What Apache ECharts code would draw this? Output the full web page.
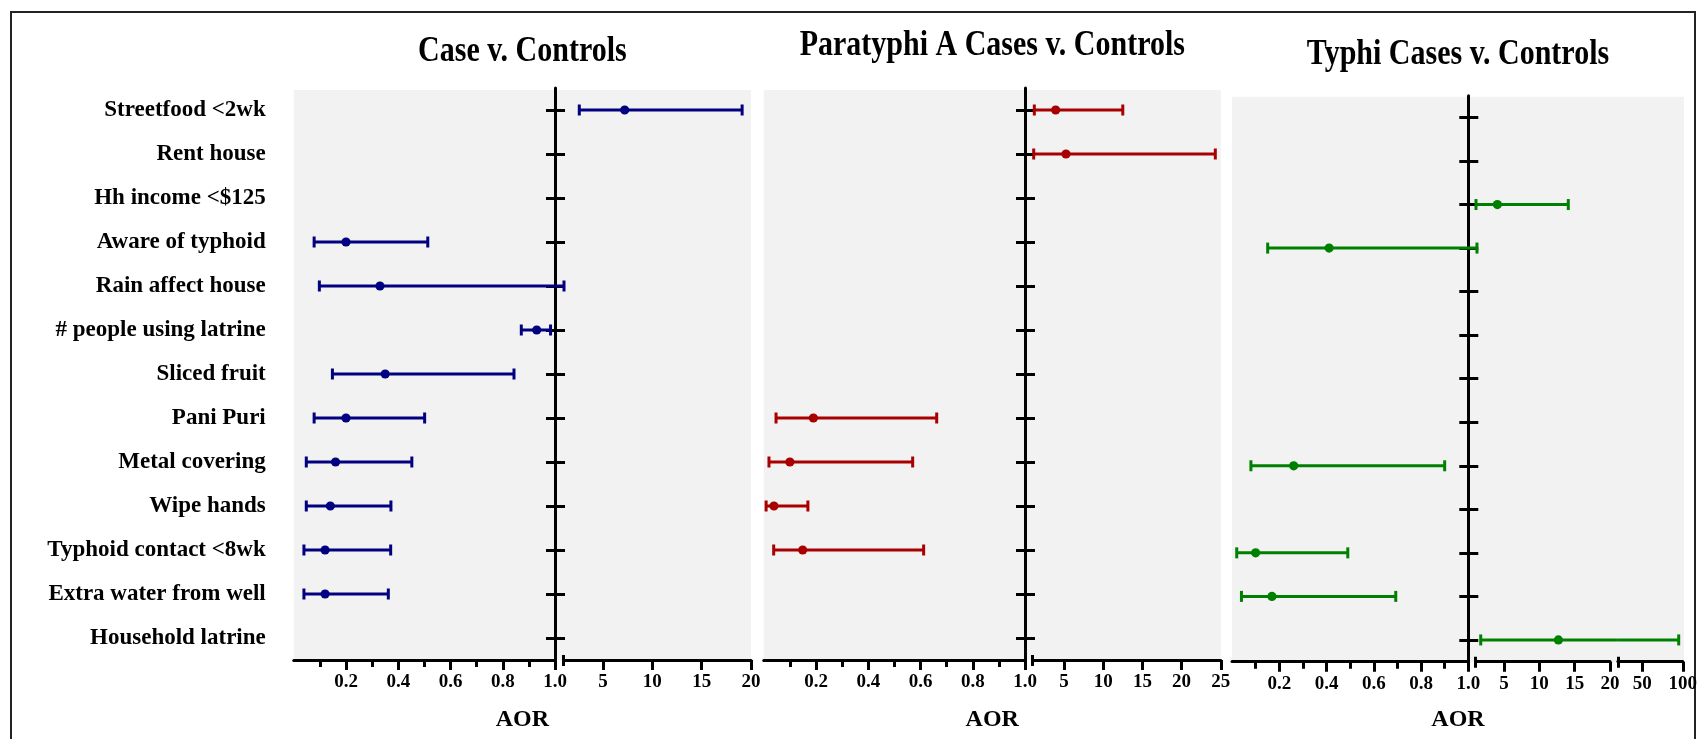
<!DOCTYPE html>
<html><head><meta charset="utf-8">
<script src="https://cdn.jsdelivr.net/npm/echarts@6/dist/echarts.min.js"></script>
<style>html,body{margin:0;padding:0;background:#fff}#c{width:1700px;height:739px}</style>
</head><body><div id="c"></div>
<script>
// ---------------- DATA ----------------
const categories = ['Streetfood <2wk', 'Rent house', 'Hh income <$125', 'Aware of typhoid',
  'Rain affect house', '# people using latrine', 'Sliced fruit', 'Pani Puri', 'Metal covering',
  'Wipe hands', 'Typhoid contact <8wk', 'Extra water from well', 'Household latrine'];
const titles = ['Case v. Controls', 'Paratyphi A Cases v. Controls', 'Typhi Cases v. Controls'];
const axisName = 'AOR';

// Case v. Controls
const aor1  = [7.2,  null, null, 0.20,  0.33,  0.93,  0.35,  0.20,  0.16,  0.14,  0.12,  0.12,  null];
const low1  = [2.6,  null, null, 0.078, 0.098, 0.871, 0.148, 0.078, 0.048, 0.048, 0.039, 0.039, null];
const high1 = [19.1, null, null, 0.513, 1.05,  0.983, 0.843, 0.501, 0.452, 0.372, 0.371, 0.362, null];
// Paratyphi A Cases v. Controls
const aor2  = [3.94, 5.26, null, null, null, null, null, 0.19,  0.10,  0.039, 0.149, null, null];
const low2  = [1.22, 1.14, null, null, null, null, null, 0.047, 0.020, 0.009, 0.038, null, null];
const high2 = [12.5, 24.3, null, null, null, null, null, 0.662, 0.570, 0.169, 0.612, null, null];
// Typhi Cases v. Controls
const aor3  = [null, null, 4.07, 0.411, null, null, null, null, 0.261, null, 0.100, 0.169, 12.7];
const low3  = [null, null, 1.04, 0.151, null, null, null, null, 0.080, null, 0.020, 0.040, 1.71];
const high3 = [null, null, 14.1, 1.18,  null, null, null, null, 0.900, null, 0.490, 0.693, 95];

// broken x-axis segments [min, max]
const segments1 = [[0, 1], [1, 20]];
const segments2 = [[0, 1], [1, 25]];
const segments3 = [[0, 1], [1, 20], [20, 100]];
// tick labels per segment
const leftTicks = [0.2, 0.4, 0.6, 0.8, 1.0];
const tickLabels1 = [leftTicks, [5, 10, 15, 20]];
const tickLabels2 = [leftTicks, [5, 10, 15, 20, 25]];
const tickLabels3 = [leftTicks, [5, 10, 15, 20], [50, 100]];

// ---------------- LAYOUT / STYLE ----------------
const FONT = '"Liberation Serif", "Times New Roman", serif';
const panelColors = ['#000080', '#a80000', '#008000'];
const segPx = [
  [[293.75, 555], [563.5, 751]],
  [[763.75, 1025], [1032.6, 1220.8]],
  [[1232, 1468.3], [1475.7, 1610], [1617.9, 1684]]
];
const plotTop = [88, 88, 95.7];
const bgTop = [90, 90, 96.7];
const plotBottom = [660, 660, 661.7];
const titleY = [52, 46, 55];
const nameY = 720;

const panels = [
  {title: titles[0], aor: aor1, low: low1, high: high1, segs: segments1, ticks: tickLabels1},
  {title: titles[1], aor: aor2, low: low2, high: high2, segs: segments2, ticks: tickLabels2},
  {title: titles[2], aor: aor3, low: low3, high: high3, segs: segments3, ticks: tickLabels3}
];

function makeRender(seg, bridgePx, color) {
  const smin = seg[0], smax = seg[1];
  return function (params, api) {
    const cat = api.value(0), lo = api.value(1), mid = api.value(2), hi = api.value(3);
    if (hi < smin || lo > smax) return null;
    const px = v => api.coord([v, cat])[0];
    const y = api.coord([smin, cat])[1];
    const xa = px(Math.max(lo, smin));
    let xb = px(Math.min(hi, smax));
    if (hi > smax) xb += bridgePx;
    const capH = 5.5;
    const st = {stroke: color, lineWidth: 3};
    const ch = [{type: 'line', shape: {x1: xa, y1: y, x2: xb, y2: y}, style: st}];
    if (lo >= smin && lo <= smax) ch.push({type: 'line', shape: {x1: xa, y1: y - capH, x2: xa, y2: y + capH}, style: st});
    if (hi >= smin && hi <= smax) ch.push({type: 'line', shape: {x1: xb, y1: y - capH, x2: xb, y2: y + capH}, style: st});
    if (mid >= smin && mid <= smax) {
      ch.push({type: 'circle', shape: {cx: px(mid), cy: y, r: 4.6}, style: {fill: color}});
    }
    return {type: 'group', children: ch};
  };
}

const grid = [], xAxis = [], yAxis = [], series = [], graphic = [];
const black = '#000';

panels.forEach((p, pi) => {
  const sp = segPx[pi];
  const top = plotTop[pi], bottom = plotBottom[pi];
  const left0 = sp[0][0], right0 = sp[sp.length - 1][1];
  // panel background
  const bg = grid.length;
  grid.push({left: left0, top: bgTop[pi], width: right0 - left0, height: bottom - bgTop[pi],
    show: true, backgroundColor: '#f2f2f2', borderWidth: 0});
  xAxis.push({gridIndex: bg, type: 'value', show: false});
  yAxis.push({gridIndex: bg, type: 'value', show: false});

  const rows = [];
  p.aor.forEach((v, i) => { if (v != null) rows.push([i, p.low[i], v, p.high[i]]); });

  p.segs.forEach((seg, si) => {
    const gi = grid.length;
    const x0 = sp[si][0], x1 = sp[si][1];
    grid.push({left: x0, top: top, width: x1 - x0, height: bottom - top, show: false});
    const first = si === 0;
    const xi = xAxis.length;
    const xa = {
      gridIndex: gi, type: 'value', min: seg[0], max: seg[1], position: 'bottom',
      axisLine: {show: true, onZero: false, lineStyle: {color: black, width: 3}},
      axisTick: {show: true, customValues: p.ticks[si], length: 10, lineStyle: {color: black, width: 3}},
      minorTick: {show: first, splitNumber: 2, length: 7, lineStyle: {color: black, width: 3}},
      axisLabel: {customValues: p.ticks[si], formatter: v => first ? Number(v).toFixed(1) : String(v),
        fontFamily: FONT, fontWeight: 'bold', fontSize: 19, color: black, margin: 13},
      splitLine: {show: false}, minorSplitLine: {show: false}
    };
    if (first) xa.interval = 0.2;
    xAxis.push(xa);
    if (!first) {
      // break marker at the start of a continued segment
      xAxis.push({gridIndex: gi, type: 'value', min: seg[0], max: seg[1], position: 'bottom', offset: -5,
        axisLine: {show: false, onZero: false}, axisLabel: {show: false}, splitLine: {show: false},
        axisTick: {show: true, customValues: [seg[0]], length: 11, lineStyle: {color: black, width: 3}}});
    }
    const yi = yAxis.length;
    if (first) {
      yAxis.push({gridIndex: gi, type: 'category', data: categories, inverse: true, position: 'right',
        axisLine: {show: true, onZero: false, lineStyle: {color: black, width: 3}},
        axisTick: {show: true, alignWithLabel: true, length: 10, lineStyle: {color: black, width: 3}},
        axisLabel: {show: false}, splitLine: {show: false}});
      yAxis.push({gridIndex: gi, type: 'category', data: categories, inverse: true, position: 'right',
        axisLine: {show: false, onZero: false},
        axisTick: {show: true, inside: true, alignWithLabel: true, length: 9, lineStyle: {color: black, width: 3}},
        axisLabel: {show: false}, splitLine: {show: false}});
      if (pi === 0) {
        yAxis.push({gridIndex: gi, type: 'category', data: categories, inverse: true, position: 'left',
          axisLine: {show: false, onZero: false}, axisTick: {show: false}, splitLine: {show: false},
          axisLabel: {show: true, margin: 28, fontFamily: FONT, fontWeight: 'bold', fontSize: 23, color: black}});
      }
    } else {
      yAxis.push({gridIndex: gi, type: 'category', data: categories, inverse: true, show: false,
        axisLine: {onZero: false}});
    }
    const bridge = si < p.segs.length - 1 ? sp[si + 1][0] - x1 : 0;
    series.push({type: 'custom', coordinateSystem: 'cartesian2d', xAxisIndex: xi, yAxisIndex: yi,
      clip: false, silent: true, z: 5, data: rows, encode: {x: [1, 2, 3], y: 0},
      renderItem: makeRender(seg, bridge, panelColors[pi])});
  });

  const cx = (left0 + right0) / 2;
  graphic.push({type: 'text', x: cx, y: titleY[pi], scaleY: 1.2, style: {text: p.title, fill: black,
    font: 'bold 30px ' + FONT, textAlign: 'center', textVerticalAlign: 'middle'}});
  graphic.push({type: 'text', x: cx, y: nameY, style: {text: axisName, fill: black,
    font: 'bold 24px ' + FONT, textAlign: 'center', textVerticalAlign: 'middle'}});
});

graphic.push({type: 'rect', shape: {x: 11, y: 12, width: 1684, height: 780}, silent: true,
  style: {fill: 'none', stroke: '#222', lineWidth: 2}});

const chart = echarts.init(document.getElementById('c'));
chart.setOption({animation: false, backgroundColor: '#fff', grid, xAxis, yAxis, series, graphic});
</script></body></html>
